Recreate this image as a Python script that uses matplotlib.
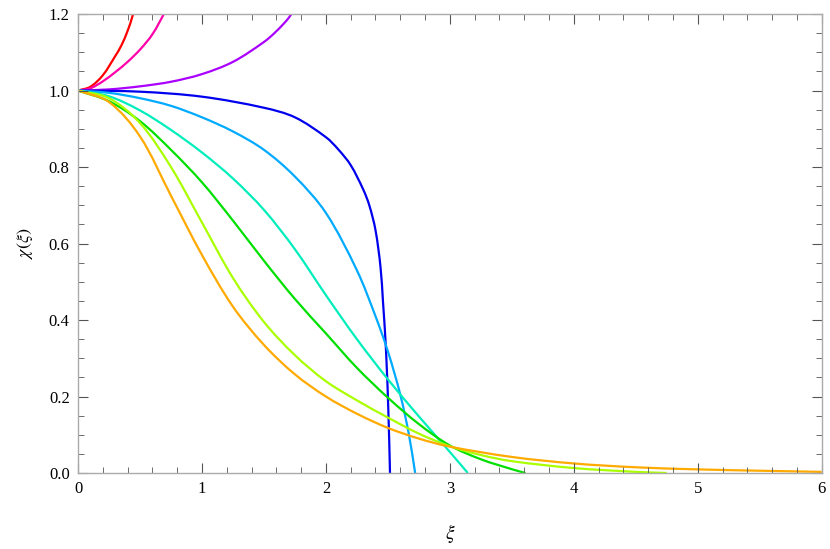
import numpy as np
import matplotlib.pyplot as plt
from matplotlib.path import Path
from matplotlib.patches import PathPatch
from matplotlib.ticker import MultipleLocator

# curves, one (xi, chi) list per colour
red_xi = [0, 0.1, 0.2, 0.3, 0.35, 0.4, 0.44, 0.47]
red_chi = [1.0, 1.01, 1.04, 1.09, 1.118, 1.156, 1.195, 1.235]

magenta_xi = [0, 0.1, 0.2, 0.3, 0.4, 0.5, 0.6, 0.7, 0.75]
magenta_chi = [1.0, 1.006, 1.024, 1.048, 1.075, 1.107, 1.147, 1.205, 1.24]

purple_xi = [0, 0.25, 0.5, 0.75, 1.0, 1.25, 1.5, 1.6, 1.7, 1.76]
purple_chi = [1.0, 1.003, 1.011, 1.023, 1.043, 1.075, 1.127, 1.155, 1.19, 1.22]

blue_xi = [0, 0.5, 1.0, 1.5, 1.75, 2.0, 2.1, 2.2, 2.3, 2.35, 2.4, 2.44, 2.46, 2.485, 2.505, 2.517]
blue_chi = [1.0, 0.997, 0.984, 0.955, 0.93, 0.878, 0.846, 0.805, 0.742, 0.7, 0.635, 0.54, 0.45, 0.32, 0.15, 0.0]

ltblue_xi = [0, 0.25, 0.5, 0.75, 1.0, 1.25, 1.5, 1.75, 2.0, 2.25, 2.4, 2.5, 2.6, 2.67, 2.72]
ltblue_chi = [1.0, 0.994, 0.98, 0.96, 0.93, 0.893, 0.845, 0.775, 0.68, 0.53, 0.41, 0.318, 0.205, 0.1, 0.0]

aqua_xi = [0, 0.25, 0.5, 0.75, 1.0, 1.25, 1.5, 1.75, 2.0, 2.25, 2.5, 2.75, 3.0, 3.145]
aqua_chi = [1.0, 0.985, 0.948, 0.897, 0.838, 0.77, 0.688, 0.585, 0.465, 0.35, 0.245, 0.148, 0.055, 0.0]

green_xi = [0, 0.25, 0.5, 0.75, 1.0, 1.25, 1.5, 1.75, 2.0, 2.25, 2.5, 2.75, 3.0, 3.25, 3.5, 3.61]
green_chi = [1.0, 0.972, 0.92, 0.845, 0.76, 0.66, 0.555, 0.455, 0.365, 0.275, 0.197, 0.128, 0.072, 0.036, 0.01, 0.0]

ygreen_xi = [0, 0.25, 0.5, 0.75, 1.0, 1.25, 1.5, 1.75, 2.0, 2.25, 2.5, 2.75, 3.0, 3.25, 3.5, 4.0, 4.5, 4.75]
ygreen_chi = [1.0, 0.98, 0.915, 0.8, 0.655, 0.51, 0.395, 0.308, 0.24, 0.19, 0.145, 0.103, 0.07, 0.047, 0.031, 0.013, 0.003, 0.0]

orange_xi = [0, 0.25, 0.5, 0.75, 1.0, 1.25, 1.5, 1.75, 2.0, 2.25, 2.5, 2.75, 3.0, 3.5, 4.0, 4.5, 5.0, 5.5, 6.0]
orange_chi = [1.0, 0.97, 0.88, 0.725, 0.57, 0.435, 0.335, 0.258, 0.2, 0.155, 0.118, 0.09, 0.069, 0.042, 0.025, 0.015, 0.0095, 0.006, 0.003]

curves = [
    (red_xi, red_chi, '#ff0000'),
    (magenta_xi, magenta_chi, '#ff00aa'),
    (purple_xi, purple_chi, '#aa00ff'),
    (blue_xi, blue_chi, '#0000ee'),
    (ltblue_xi, ltblue_chi, '#00aaff'),
    (aqua_xi, aqua_chi, '#00eebb'),
    (green_xi, green_chi, '#00e000'),
    (ygreen_xi, ygreen_chi, '#aaff00'),
    (orange_xi, orange_chi, '#ffaa00'),
]


def smooth_path(xs, ys, sx=124.0, sy=382.5):
    # cubic bezier through the read points (chord-length tangents)
    p = np.column_stack([xs, ys]).astype(float)
    n = len(p)
    d = np.diff(p, axis=0)
    s = np.hypot(d[:, 0] * sx, d[:, 1] * sy)
    m = np.zeros_like(p)
    m[0] = d[0] / s[0]
    m[-1] = d[-1] / s[-1]
    for i in range(1, n - 1):
        m[i] = (p[i + 1] - p[i - 1]) / (s[i - 1] + s[i])
    verts = [p[0]]
    codes = [Path.MOVETO]
    for i in range(n - 1):
        verts += [p[i] + m[i] * s[i] / 3, p[i + 1] - m[i + 1] * s[i] / 3, p[i + 1]]
        codes += [Path.CURVE4] * 3
    return Path(verts, codes)


plt.rcParams['font.family'] = ['Liberation Serif', 'DejaVu Serif']
plt.rcParams['mathtext.fontset'] = 'stix'

fig = plt.figure(figsize=(8.3, 5.49), dpi=100)
ax = fig.add_axes([0.094, 0.1384, 0.896, 0.836])

for xs, ys, c in curves:
    ax.add_patch(PathPatch(smooth_path(xs, ys), fill=False, edgecolor=c,
                           lw=1.6, capstyle='butt'))

ax.set_xlim(0, 6)
ax.set_ylim(0, 1.2)

ax.xaxis.set_major_locator(MultipleLocator(1))
ax.xaxis.set_minor_locator(MultipleLocator(0.2))
ax.yaxis.set_minor_locator(MultipleLocator(0.05))
ax.set_yticks([0, 0.2, 0.4, 0.6, 0.8, 1.0, 1.2])
ax.set_yticklabels(['0.0', '0.2', '0.4', '0.6', '0.8', '1.0', '1.2'])

ax.tick_params(which='both', direction='in', top=True, right=True,
               color='#555555', labelsize=12)
ax.tick_params(which='major', length=7, width=0.8, pad=6)
ax.tick_params(which='minor', length=4, width=0.6)

for s in ax.spines.values():
    s.set_color('#aaaaaa')
    s.set_linewidth(1.0)

ax.set_xlabel(r'$\xi$', fontsize=14, labelpad=18)
ax.set_ylabel(r'$\chi(\xi)$', fontsize=13, labelpad=10)

fig.savefig('out.png', dpi=100)
